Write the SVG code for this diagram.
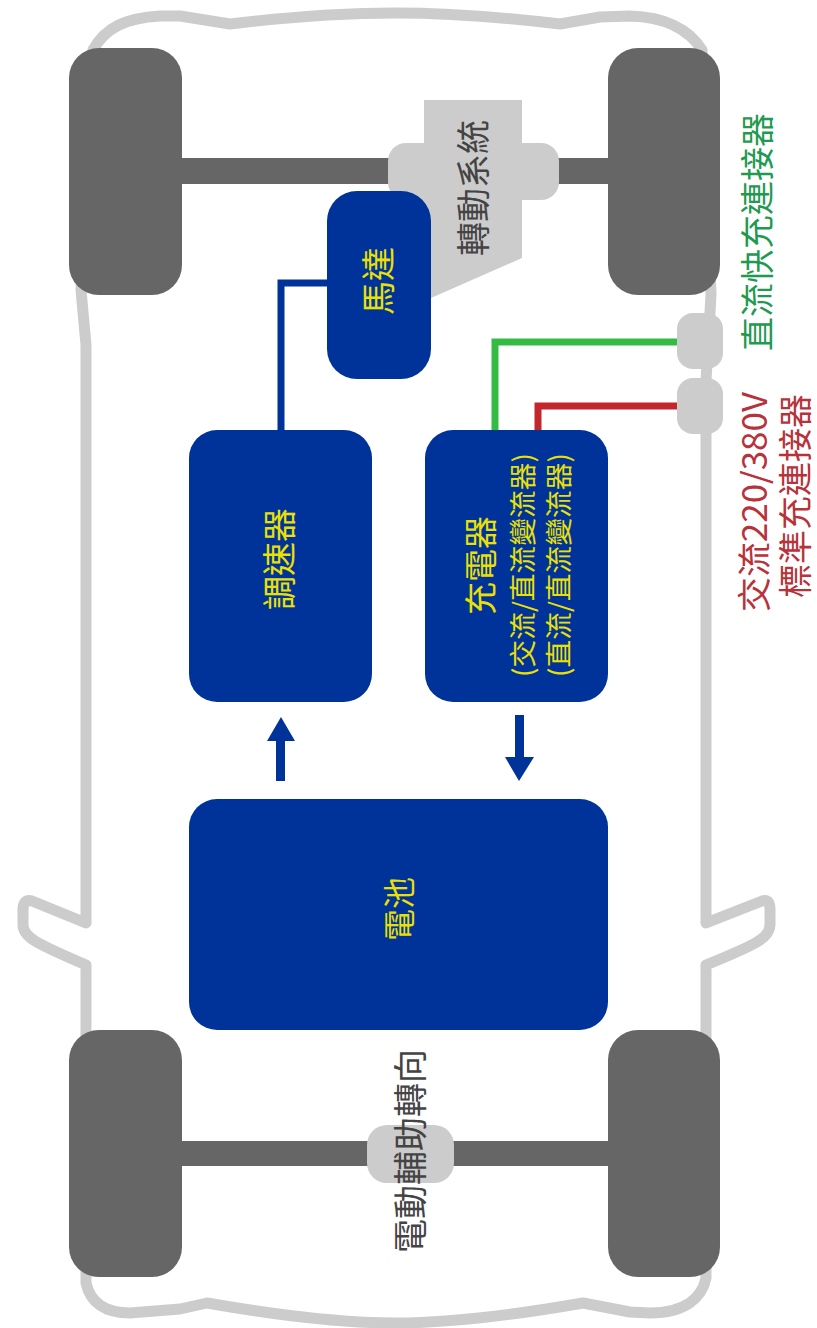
<svg xmlns="http://www.w3.org/2000/svg" width="817" height="1328" viewBox="0 0 817 1328">
<style>
text{font-family:"Noto Sans CJK TC","Noto Sans CJK SC","Liberation Sans",sans-serif;font-size:34px}
.b{fill:#003399}.t{fill:#666}.h{fill:#ccc}
.y{fill:#ebe000}.d{fill:#444}.g{fill:#1f9a50}.r{fill:#b8323a}
.s{font-size:27px}
.w{fill:none;stroke-width:7}
</style>
<rect width="817" height="1328" fill="#fff"/>
<g id="car-body"><path d="M93 50C105 28 125 18 160 16L180 16L230 24C280 18 340 13 395 13C450 13 510 18 560 24L600 17L630 16C665 17 688 28 702 50L711 295L706 380V923L762 901C769 899 770 904 770 910V925C770 938 755 945 706 965V1278C702 1298 685 1313 650 1313L630 1312L583 1303C520 1314 450 1323 395 1323C340 1323 270 1314 207 1303L180 1309L130 1313C105 1313 90 1302 86 1283V965C40 945 23 938 23 925V910C23 904 25 899 32 901L86 923V345L81 290Z" fill="none" stroke="#ccc" stroke-width="11" stroke-linejoin="round"/></g>
<g id="front-axle"><rect class="t" x="180" y="158" width="430" height="26"/></g>
<g id="rear-axle"><rect class="t" x="180" y="1141" width="430" height="25"/></g>
<g id="tire-fl"><rect class="t" x="69" y="48" width="113" height="247" rx="30"/></g>
<g id="tire-fr"><rect class="t" x="608" y="48" width="112" height="247" rx="30"/></g>
<g id="tire-rl"><rect class="t" x="69" y="1030" width="113" height="247" rx="30"/></g>
<g id="tire-rr"><rect class="t" x="608" y="1030" width="112" height="247" rx="30"/></g>
<g id="transmission">
<rect class="h" x="388" y="143" width="171" height="57" rx="18"/>
<path class="h" d="M424 100H522V258L431 298L388 200L424 143Z"/>
<text class="d" transform="translate(486,256) rotate(-90)">轉動系統</text>
</g>
<g id="steering">
<rect class="h" x="367" y="1125" width="87" height="58" rx="20"/>
<text class="d" transform="translate(423,1253) rotate(-90)">電動輔助轉向</text>
</g>
<g id="connectors">
<path class="w" stroke="#003399" d="M281 430V283H330"/>
<path class="w" stroke="#33bb44" d="M495 430V342H680"/>
<path class="w" stroke="#c1272d" d="M538 430V406H680"/>
<path class="b" d="M276 781V741H267L281 717L295 741H285V781Z"/>
<path class="b" d="M515 715V757H505L519 781L534 757H524V715Z"/>
</g>
<g id="dc-port">
<rect class="h" x="677" y="313" width="46" height="56" rx="16"/>
<text class="g" transform="translate(770,351) rotate(-90)">直流快充連接器</text>
</g>
<g id="ac-port">
<rect class="h" x="677" y="378" width="46" height="56" rx="16"/>
<text class="r" textLength="220" lengthAdjust="spacingAndGlyphs" transform="translate(767,612) rotate(-90)">交流220/380V</text>
<text class="r" transform="translate(808,598) rotate(-90)">標準充連接器</text>
</g>
<g id="motor">
<rect class="b" x="327" y="191" width="104" height="188" rx="30"/>
<text class="y" transform="translate(391,315) rotate(-90)">馬達</text>
</g>
<g id="controller">
<rect class="b" x="189" y="430" width="183" height="272" rx="28"/>
<text class="y" transform="translate(292,610) rotate(-90)">調速器</text>
</g>
<g id="charger">
<rect class="b" x="425" y="430" width="183" height="272" rx="28"/>
<text class="y" style="font-size:33px" transform="translate(493,615) rotate(-90)">充電器</text>
<text class="y s" textLength="224" lengthAdjust="spacingAndGlyphs" transform="translate(533,677) rotate(-90)">(交流/直流變流器)</text>
<text class="y s" textLength="224" lengthAdjust="spacingAndGlyphs" transform="translate(569,677) rotate(-90)">(直流/直流變流器)</text>
</g>
<g id="battery">
<rect class="b" x="189" y="799" width="419" height="231" rx="28"/>
<text class="y" style="font-size:32px" transform="translate(411,941) rotate(-90)">電池</text>
</g>
</svg>
